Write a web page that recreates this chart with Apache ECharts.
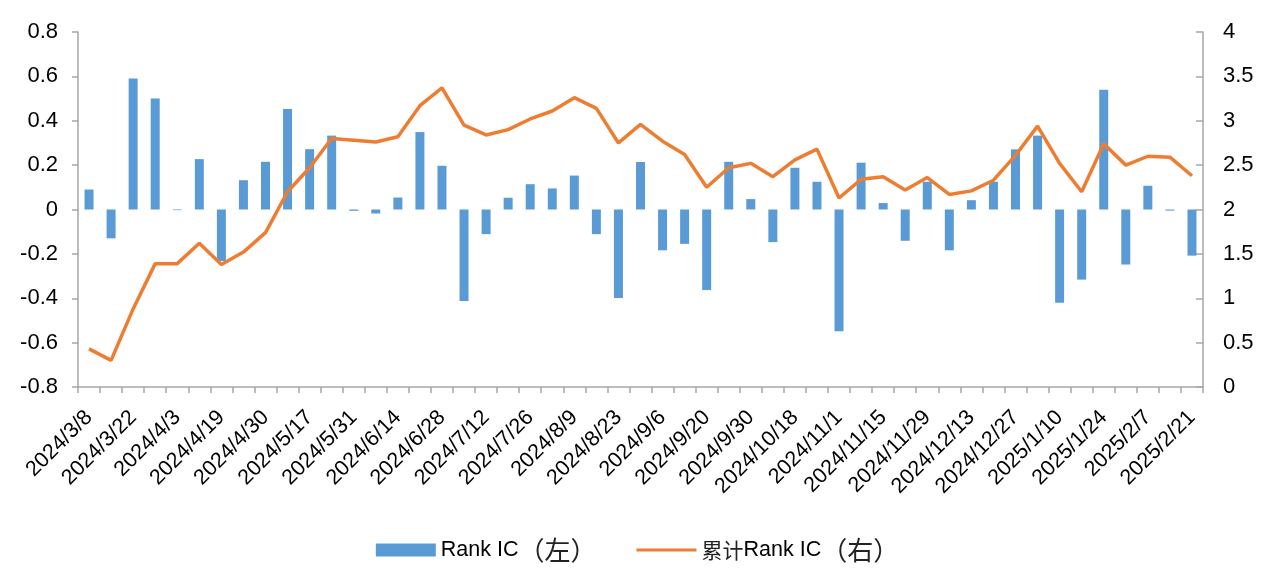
<!DOCTYPE html>
<html>
<head>
<meta charset="utf-8">
<script src="https://cdn.jsdelivr.net/npm/echarts@6/dist/echarts.min.js"></script>
<style>
html,body{margin:0;padding:0;background:#fff;}
#chart{width:1275px;height:573px;}
</style>
</head>
<body>
<div id="chart"></div>
<script>
const categories = ['2024/3/8','2024/3/15','2024/3/22','2024/3/29','2024/4/3','2024/4/12','2024/4/19','2024/4/26','2024/4/30','2024/5/10',
  '2024/5/17','2024/5/24','2024/5/31','2024/6/7','2024/6/14','2024/6/21','2024/6/28','2024/7/5','2024/7/12','2024/7/19',
  '2024/7/26','2024/8/2','2024/8/9','2024/8/16','2024/8/23','2024/8/30','2024/9/6','2024/9/13','2024/9/20','2024/9/27',
  '2024/9/30','2024/10/11','2024/10/18','2024/10/25','2024/11/1','2024/11/8','2024/11/15','2024/11/22','2024/11/29','2024/12/6',
  '2024/12/13','2024/12/20','2024/12/27','2025/1/3','2025/1/10','2025/1/17','2025/1/24','2025/1/27','2025/2/7','2025/2/14','2025/2/21'];

const rankIC = [0.09,-0.13,0.59,0.50,-0.003,0.227,-0.232,0.132,0.215,0.453,
  0.272,0.333,-0.006,-0.018,0.054,0.349,0.197,-0.412,-0.111,0.053,
  0.114,0.095,0.153,-0.111,-0.399,0.214,-0.184,-0.155,-0.363,0.215,
  0.047,-0.147,0.188,0.125,-0.549,0.211,0.029,-0.141,0.125,-0.184,
  0.042,0.125,0.271,0.333,-0.42,-0.316,0.54,-0.248,0.107,-0.005,-0.208];

const cumRankIC = [0.43,0.30,0.88,1.39,1.39,1.62,1.38,1.52,1.74,2.20,
  2.47,2.80,2.78,2.76,2.82,3.17,3.37,2.95,2.84,2.90,
  3.02,3.11,3.26,3.14,2.75,2.96,2.77,2.62,2.25,2.47,
  2.52,2.37,2.56,2.68,2.13,2.34,2.37,2.22,2.36,2.17,
  2.21,2.33,2.61,2.94,2.52,2.20,2.74,2.50,2.60,2.59,2.38];

const leftTicks = {min:-0.8, max:0.8, interval:0.2};
const rightTicks = {min:0, max:4, interval:0.5};

const barName = 'Rank IC（左）';
const lineName = '累计Rank IC（右）';

const FONT = 'Liberation Sans, Arial, sans-serif';
const CJK = 'Noto Sans CJK SC, sans-serif';
const axisColor = '#A6A6A6';

const chart = echarts.init(document.getElementById('chart'));
chart.setOption({
  animation:false,
  backgroundColor:'#fff',
  grid:{left:78, right:72, top:32, bottom:186, containLabel:false, outerBoundsMode:'none'},
  legend:{
    top:532, left:'center', itemGap:40, itemWidth:60, itemHeight:13,
    textStyle:{fontFamily:FONT, fontSize:21, color:'#000',
      rich:{
        a:{fontFamily:FONT, fontSize:21.5, color:'#000'},
        c:{fontFamily:CJK, fontSize:21, color:'#222'},
        p:{fontFamily:CJK, fontSize:26, color:'#222'}
      }},
    formatter:function(name){
      if(name===barName) return '{a|Rank IC}{p|（左）}';
      return '{c|累计}{a|Rank IC}{p|（右）}';
    },
    data:[{name:barName, icon:'rect'}, {name:lineName, icon:'path://M0,0L60,0L60,3.2L0,3.2Z'}]
  },
  xAxis:{
    type:'category', data:categories, boundaryGap:true,
    axisLine:{onZero:false, lineStyle:{color:axisColor, width:1.5}},
    axisTick:{show:true, interval:0, length:6, lineStyle:{color:axisColor, width:1.5}},
    axisLabel:{interval:1, rotate:45, fontFamily:FONT, fontSize:21.5, color:'#000', margin:27, verticalAlign:'middle'},
    splitLine:{show:false}
  },
  yAxis:[
    {type:'value', min:leftTicks.min, max:leftTicks.max, interval:leftTicks.interval, position:'left',
     axisLine:{show:true, lineStyle:{color:axisColor, width:1.5}},
     axisTick:{show:true, length:6, lineStyle:{color:axisColor, width:1.5}},
     splitLine:{show:false},
     axisLabel:{fontFamily:FONT, fontSize:22, color:'#000', margin:20,
       formatter:v=>{const r=Math.round(v*10)/10; return r===0?'0':r.toFixed(1);}}},
    {type:'value', min:rightTicks.min, max:rightTicks.max, interval:rightTicks.interval, position:'right',
     axisLine:{show:true, lineStyle:{color:axisColor, width:1.5}},
     axisTick:{show:true, inside:true, length:7, lineStyle:{color:axisColor, width:1.5}},
     splitLine:{show:false},
     axisLabel:{fontFamily:FONT, fontSize:22, color:'#000', margin:20,
       formatter:v=>String(Math.round(v*10)/10)}}
  ],
  series:[
    {name:barName, type:'bar', yAxisIndex:0, data:rankIC, barWidth:9,
     itemStyle:{color:'#5B9BD5'}},
    {name:lineName, type:'line', yAxisIndex:1, data:cumRankIC, symbol:'none',
     lineStyle:{color:'#ED7D31', width:3.5}, itemStyle:{color:'#ED7D31'}}
  ]
});
</script>
</body>
</html>
